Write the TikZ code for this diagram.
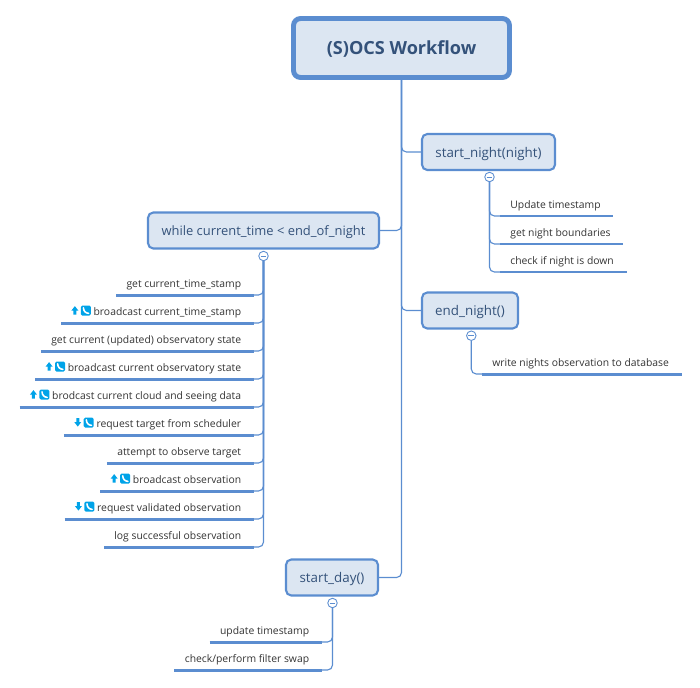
\documentclass[tikz,border=0pt]{standalone}
\usepackage{fontspec}
\setmainfont{Open Sans}
\usepackage{tikz}

\definecolor{linkblue}{RGB}{91,141,208}
\definecolor{topicfill}{RGB}{220,230,242}
\definecolor{topictext}{RGB}{52,82,122}
\definecolor{iconblue}{RGB}{0,163,232}

\newcommand{\upicon}{\tikz[baseline=-0.6pt,x=0.5669pt,y=0.5669pt]{
	\fill[iconblue] (1.5,0) -- (4.5,0) -- (4.5,4) -- (6.5,4) -- (3,8.5) -- (-0.5,4) -- (1.5,4) -- cycle;
	\fill[iconblue,rounded corners=0.8pt] (9,-1) rectangle (19,9);
	\draw[white,line width=0.9pt,line cap=round] (11.6,6.8) .. controls (11.8,3.5) and (13.5,1.5) .. (16.8,1.2);
}\hspace{1.6pt}}
\newcommand{\downicon}{\tikz[baseline=-0.6pt,x=0.5669pt,y=0.5669pt]{
	\fill[iconblue] (1.5,8.5) -- (4.5,8.5) -- (4.5,4.5) -- (6.5,4.5) -- (3,0) -- (-0.5,4.5) -- (1.5,4.5) -- cycle;
	\fill[iconblue,rounded corners=0.8pt] (9,-1) rectangle (19,9);
	\draw[white,line width=0.9pt,line cap=round] (11.6,6.8) .. controls (11.8,3.5) and (13.5,1.5) .. (16.8,1.2);
}\hspace{1.6pt}}

\tikzset{
	topic/.style={draw=linkblue,fill=topicfill,text=topictext,line width=1.2pt,rounded corners=3pt,minimum height=.72cm,inner sep=0pt,text height=7.9pt,text depth=2pt,font=\fontsize{7.6}{9}\selectfont},
	roottopic/.style={topic,line width=2.8pt,rounded corners=4pt,minimum width=4.32cm,minimum height=1.18cm,text height=9.8pt,text depth=2.4pt,font=\fontsize{10.3}{12}\selectfont\bfseries},
	collapse/.style={circle,draw=linkblue,fill=white,line width=.5pt,minimum size=.19cm,inner sep=0pt,
		path picture={\draw[linkblue,line width=.5pt] ([xshift=1pt]path picture bounding box.west) -- ([xshift=-1pt]path picture bounding box.east);}},
	leftitem/.style={anchor=south east,text=black!80,inner ysep=2.6pt,inner xsep=0pt,text height=5pt,text depth=1.4pt,font=\fontsize{5.9}{7}\selectfont,
		execute at begin node=\hspace*{.2cm},execute at end node=\hspace*{.25cm}},
	rightitem/.style={leftitem,anchor=south west},
	bar/.style={linkblue,line width=1.7pt},
	link/.style={linkblue,line width=.65pt,rounded corners=2.8pt},
	spine/.style={linkblue,line width=1.1pt}
}

\begin{document}
\begin{tikzpicture}[x=.02cm,y=-.02cm]

	\useasboundingbox (0,0) rectangle (700,687);

	\node[roottopic] (root) at (401.5,48) {(S)OCS Workflow};
	\node[topic,minimum width=2.66cm] (startnight) at (488.5,152) {start\_night(night)};
	\node[topic,minimum width=4.62cm,font=\fontsize{7.35}{9}\selectfont] (whilenight) at (263.5,230.5) {while current\_time < end\_of\_night};
	\node[topic,minimum width=1.92cm] (endnight) at (470,310.5) {end\_night()};
	\node[topic,minimum width=1.84cm] (startday) at (332,577.5) {start\_day()};

	\draw[link] (root.south) |- (startnight.west);
	\draw[link] (root.south) |- (whilenight.east);
	\draw[link] (root.south) |- (endnight.west);
	\draw[link] (root.south) |- (startday.east);

	\node[collapse] (cnight) at (489.5,177) {};
	\node[collapse] (cwhile) at (263.5,256) {};
	\node[collapse] (cend) at (471.3,335.7) {};
	\node[collapse] (cday) at (332.5,603) {};

	% start_night children
	\foreach \i/\y/\txt in {1/216/Update timestamp,2/244/get night boundaries,3/272/check if night is down}{
		\node[rightitem] (n\i) at (500,\y) {\txt};
		\draw[bar] (n\i.south west) -- (n\i.south east);
		\draw[link] (cnight.south) |- (n\i.south west);
	}
	\draw[spine] (cnight.south) -- (cnight.south |- n2.south west);

	% end_night child
	\node[rightitem] (e1) at (482,374) {write nights observation to database};
	\draw[bar] (e1.south west) -- (e1.south east);
	\draw[link] (cend.south) |- (e1.south west);

	% while children
	\foreach \i/\y/\txt in {
		1/295/get current\_time\_stamp,
		2/323/\upicon broadcast current\_time\_stamp,
		3/351/get current (updated) observatory state,
		4/379/\upicon broadcast current observatory state,
		5/407/\upicon brodcast current cloud and seeing data,
		6/435/\downicon request target from scheduler,
		7/463/attempt to observe target,
		8/491/\upicon broadcast observation,
		9/519/\downicon request validated observation,
		10/547/log successful observation}{
		\node[leftitem] (w\i) at (254,\y) {\txt};
		\draw[bar] (w\i.south west) -- (w\i.south east);
		\draw[link] (cwhile.south) |- (w\i.south east);
	}
	\draw[spine] (cwhile.south) -- (cwhile.south |- w9.south east);

	% start_day children
	\foreach \i/\y/\txt in {1/642/update timestamp,2/670/{check/perform filter swap}}{
		\node[leftitem] (d\i) at (322,\y) {\txt};
		\draw[bar] (d\i.south west) -- (d\i.south east);
		\draw[link] (cday.south) |- (d\i.south east);
	}
	\draw[spine] (cday.south) -- (cday.south |- d1.south east);

\end{tikzpicture}
\end{document}
